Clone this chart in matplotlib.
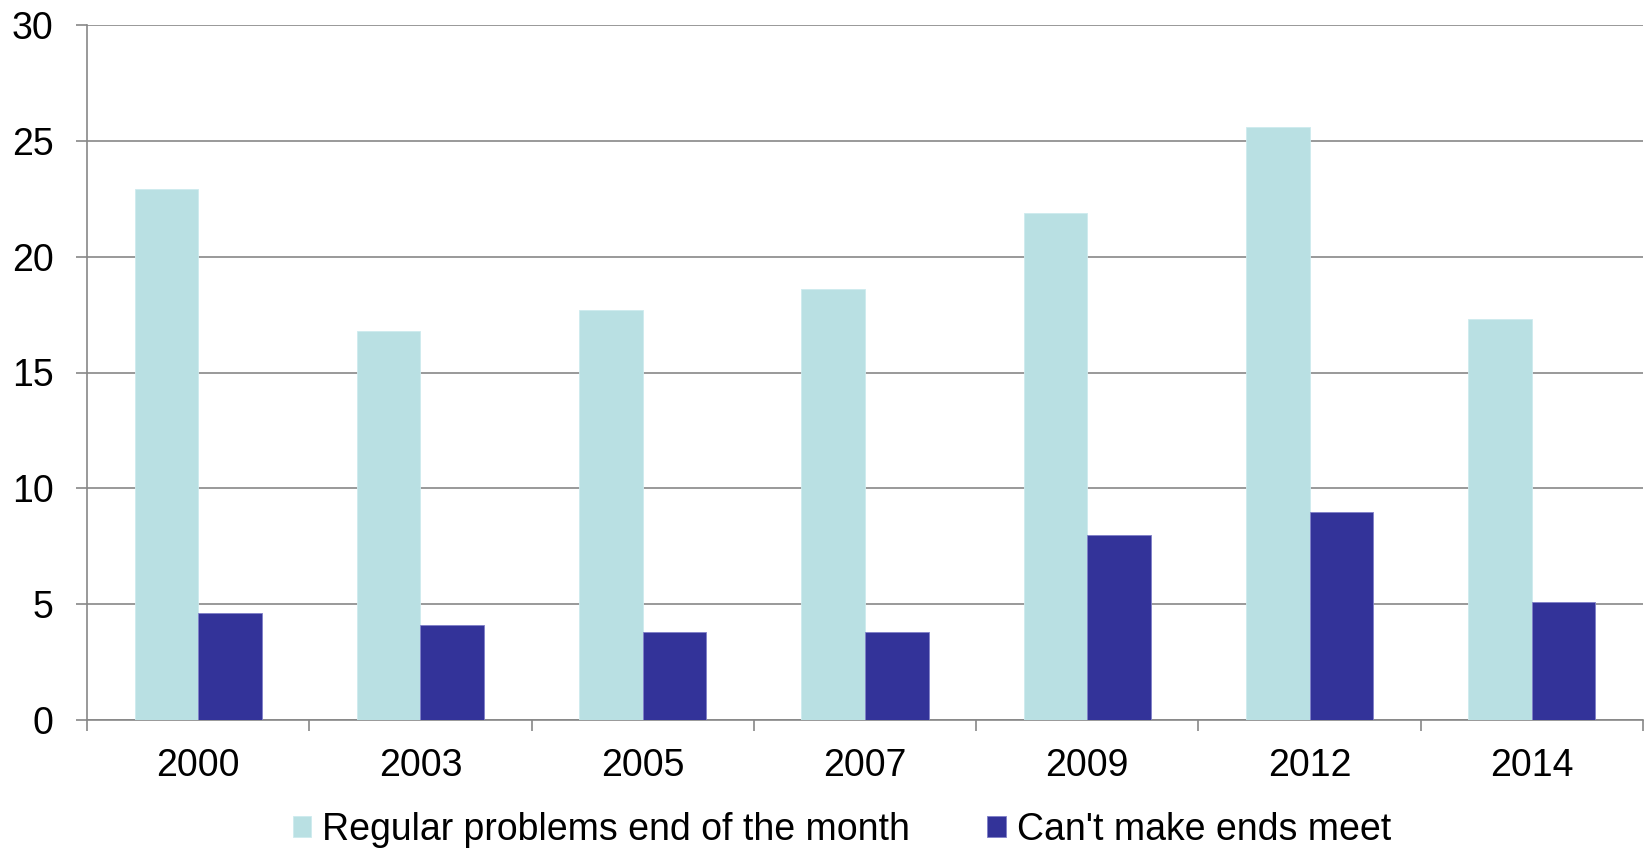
import matplotlib
matplotlib.use("Agg")
import matplotlib.pyplot as plt
import numpy as np

years = ["2000", "2003", "2005", "2007", "2009", "2012", "2014"]
regular_problems = [22.9, 16.8, 17.7, 18.6, 21.9, 25.6, 17.3]
cant_make_ends_meet = [4.6, 4.1, 3.8, 3.8, 8.0, 9.0, 5.1]
series_labels = ["Regular problems end of the month", "Can't make ends meet"]
y_ticks = [0, 5, 10, 15, 20, 25, 30]

light_color = "#B9E0E3"
dark_color = "#333399"
grid_color = "#878787"
font_size = 27

plt.rcParams["font.family"] = ["Liberation Sans", "DejaVu Sans"]

fig = plt.figure(figsize=(16.51, 8.49), dpi=100)
ax = fig.add_axes([87 / 1651, 1 - 720 / 849, 1556 / 1651, (720 - 25) / 849])

x = np.arange(len(years))
w = 1 / 3.5
b1 = ax.bar(x - w / 2, regular_problems, width=w, color=light_color,
            edgecolor="#CDEBEE", linewidth=0.6, label=series_labels[0], zorder=3)
b2 = ax.bar(x + w / 2, cant_make_ends_meet, width=w, color=dark_color,
            edgecolor="#7F7FC8", linewidth=0.6, label=series_labels[1], zorder=3)

ax.set_xlim(-0.5, len(years) - 0.5)
ax.set_ylim(0, 30)
ax.set_yticks(y_ticks)
ax.set_yticklabels([str(t) for t in y_ticks], fontsize=font_size)
ax.set_xticks(x)
ax.set_xticklabels(years, fontsize=font_size)
ax.set_xticks(np.arange(-0.5, len(years)), minor=True)

ax.yaxis.grid(True, color=grid_color, linewidth=1.2, zorder=0)
ax.set_axisbelow(True)

ax.tick_params(axis="y", which="major", length=8, width=1.2, color=grid_color, pad=16)
ax.tick_params(axis="x", which="major", length=0, pad=20)
ax.tick_params(axis="x", which="minor", length=8, width=1.2, color=grid_color)

for side in ("top", "right"):
    ax.spines[side].set_visible(False)
for side in ("left", "bottom"):
    ax.spines[side].set_color(grid_color)
    ax.spines[side].set_linewidth(1.2)

fig.legend(handles=[b1, b2], labels=series_labels, loc="center",
           bbox_to_anchor=(842 / 1651, 1 - 830 / 849), ncol=2, frameon=False,
           fontsize=font_size, handlelength=0.5, handleheight=0.5, handletextpad=0.3,
           columnspacing=2.05, borderaxespad=0)

fig.savefig("out.png", dpi=100, facecolor="white")
